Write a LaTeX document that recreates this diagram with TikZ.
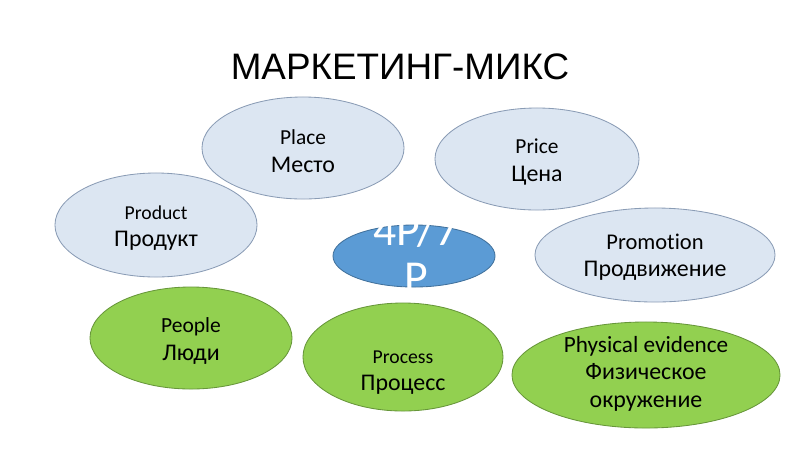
\documentclass[tikz,border=0pt]{standalone}
\usepackage{fontspec}
\setmainfont{Carlito}[Ligatures=NoCommon]
\newfontfamily\titlefont{Liberation Sans}
\usetikzlibrary{shapes.geometric}
\definecolor{paleblue}{HTML}{DCE6F2}
\definecolor{paleedge}{HTML}{8A9CB5}
\definecolor{leafgreen}{HTML}{92D050}
\definecolor{leafedge}{HTML}{67963A}
\definecolor{corefill}{HTML}{5B9BD5}
\definecolor{coreedge}{HTML}{41719C}
\newcommand{\twoline}[3][14.5]{{\fontsize{#1}{19.5}\selectfont #2}\\{\fontsize{17}{19.5}\selectfont #3}}
\tikzset{
  oval/.style={ellipse,inner sep=0pt,line width=0.6pt},
  bluebox/.style={oval,fill=paleblue,draw=paleedge},
  greenbox/.style={oval,fill=leafgreen,draw=leafedge},
  caption/.style={align=center,inner sep=0pt,font=\fontsize{17}{19.5}\selectfont}
}

\begin{document}
\begin{tikzpicture}[x=0.025cm,y=-0.025cm]
\useasboundingbox (0,0) rectangle (800,450);
% TITLE
\node (title) at (400,67) {\titlefont\fontsize{26.2}{30}\selectfont МАРКЕТИНГ-МИКС};
% UPPER OVALS (4P)
\node [bluebox,minimum width=5.05cm,minimum height=2.55cm] (place) at (303,148) {};
\node [caption] (placetext) at ([yshift=-2.2pt]place.center) {\twoline[15.2]{Place}{Место}};
\node [bluebox,minimum width=5.05cm,minimum height=2.6cm] (product) at (156,225) {};
\node [caption] (producttext) at ([yshift=-2.4pt]product.center) {\twoline[14]{Product}{Продукт}};
\node [bluebox,minimum width=5.1cm,minimum height=2.55cm] (price) at (537,159) {};
\node [caption] (pricetext) at ([yshift=-2pt]price.center) {\twoline[15.2]{Price}{Цена}};
\node [bluebox,minimum width=6cm,minimum height=2.35cm] (promotion) at (655,255) {};
\node [caption] (promotiontext) at ([yshift=-1.5pt]promotion.center) {\twoline[16]{Promotion}{Продвижение}};
% CENTRE
\node [ellipse,fill=corefill,draw=coreedge,line width=0.6pt,minimum width=4.05cm,minimum height=1.55cm] (core) at (414,256) {};
\node [white,align=center,font=\fontsize{32.5}{33.5}\selectfont] (coretext) at (416,253) {4P/7\\P};
% LOWER OVALS (7P)
\node [greenbox,minimum width=5.05cm,minimum height=2.55cm] (people) at (191,338) {};
\node [caption] (peopletext) at ([yshift=-2.2pt]people.center) {\twoline[15.3]{People}{Люди}};
\node [greenbox,minimum width=5cm,minimum height=2.7cm] (process) at (403,357) {};
\node [caption] (processtext) at ([yshift=-11pt]process.center) {\twoline[14]{Process}{Процесс}};
\node [greenbox,minimum width=6.7cm,minimum height=2.65cm] (evidence) at (646,375) {};
\node [caption] (evidencetext) at ([yshift=1pt]evidence.center) {\twoline[16.5]{Physical evidence}{Физическое}\\окружение};
\end{tikzpicture}
\end{document}
